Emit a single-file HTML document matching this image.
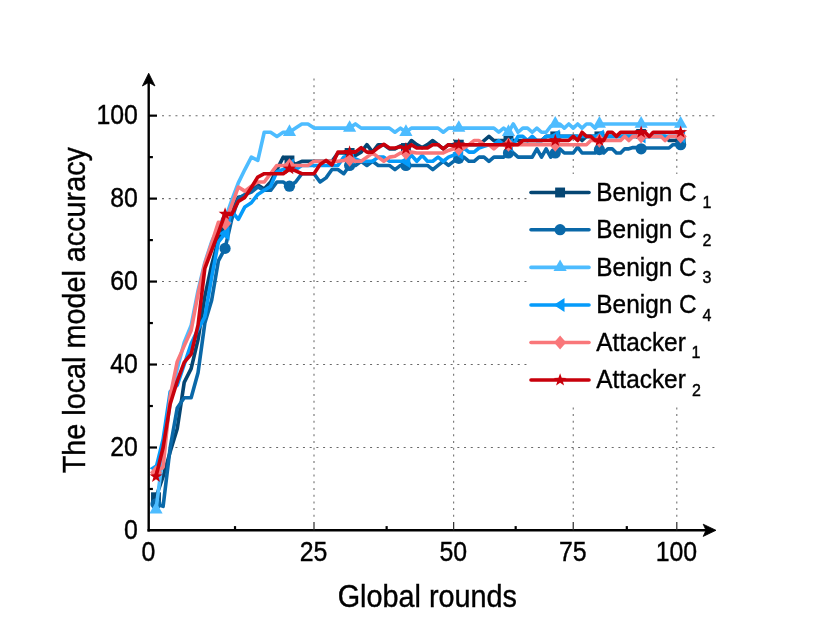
<!DOCTYPE html>
<html><head><meta charset="utf-8"><title>chart</title>
<style>
html,body{margin:0;padding:0;background:#fff;}
body{width:830px;height:636px;overflow:hidden;position:relative;}
svg{display:block;position:absolute;left:0;top:0;}
#tx{filter:grayscale(1);}
text{font-family:"Liberation Sans",sans-serif;fill:#000;stroke:#000;stroke-width:0.4px;}
.s{font-size:16px;}
</style></head><body>
<svg width="830" height="636" viewBox="0 0 830 636">
<rect x="0" y="0" width="830" height="636" fill="#fff"/>
<g stroke="#6a6a6a" stroke-width="1.05" stroke-dasharray="2,4.712" fill="none">
<line x1="162.0" y1="447.49" x2="716" y2="447.49"/>
<line x1="162.0" y1="364.53" x2="716" y2="364.53"/>
<line x1="162.0" y1="281.57" x2="716" y2="281.57"/>
<line x1="162.0" y1="198.61" x2="716" y2="198.61"/>
<line x1="162.0" y1="115.65" x2="716" y2="115.65"/>
<line x1="314.00" y1="516.80" x2="314.00" y2="77" stroke-dasharray="2,4.712"/>
<line x1="453.65" y1="516.80" x2="453.65" y2="77" stroke-dasharray="2,4.712"/>
<line x1="573.24" y1="516.80" x2="573.24" y2="77" stroke-dasharray="2,4.712"/>
<line x1="676.80" y1="516.80" x2="676.80" y2="77" stroke-dasharray="2,4.712"/>
</g>
<polyline points="155.99,497.27 163.12,476.53 170.20,451.64 177.24,428.82 184.22,382.37 191.15,368.68 198.03,339.64 204.86,296.50 211.65,264.98 218.38,240.09 225.07,227.65 231.71,211.05 238.31,197.37 244.86,196.12 251.36,188.24 257.82,184.92 264.24,189.07 270.61,182.02 276.93,169.57 283.22,157.13 289.46,160.45 295.66,164.18 301.81,161.28 307.93,161.28 314.00,161.28 320.04,161.28 326.03,161.28 331.99,161.28 337.90,152.98 343.78,152.98 349.61,152.98 355.41,155.47 361.17,152.15 366.90,144.69 372.58,152.15 378.23,144.69 383.84,144.69 389.42,148.83 394.96,148.83 400.47,145.93 405.94,148.00 411.37,140.54 416.77,144.69 422.14,147.59 427.47,144.69 432.78,140.54 438.04,144.69 443.28,148.83 448.48,144.69 453.65,144.69 458.79,144.69 463.89,144.69 468.97,144.69 474.01,144.69 479.02,144.69 484.01,140.54 488.96,136.39 493.88,140.54 498.77,140.54 503.64,140.54 508.47,140.54 513.28,140.54 518.05,140.54 522.80,140.54 527.52,140.54 532.22,140.54 536.88,140.54 541.52,140.54 546.13,136.39 550.71,136.39 555.27,136.39 559.80,136.39 564.30,136.39 568.78,136.39 573.24,136.39 577.66,136.39 582.07,140.54 586.44,136.39 590.79,136.39 595.12,136.39 599.42,136.39 603.70,136.39 607.96,136.39 612.19,136.39 616.40,136.39 620.58,136.39 624.74,136.39 628.88,136.39 632.99,136.39 637.09,136.39 641.16,133.90 645.20,136.39 649.23,136.39 653.23,136.39 657.21,136.39 661.17,136.39 665.11,136.39 669.03,140.54 672.92,140.54 676.80,140.54 680.65,140.54" fill="none" stroke="#054673" stroke-width="3.6" stroke-linejoin="round" stroke-linecap="round"/>
<rect x="151.04" y="492.32" width="9.90" height="9.90" fill="#054673"/>
<rect x="220.12" y="222.70" width="9.90" height="9.90" fill="#054673"/>
<rect x="284.51" y="155.50" width="9.90" height="9.90" fill="#054673"/>
<rect x="344.66" y="148.03" width="9.90" height="9.90" fill="#054673"/>
<rect x="400.99" y="143.05" width="9.90" height="9.90" fill="#054673"/>
<rect x="453.84" y="139.74" width="9.90" height="9.90" fill="#054673"/>
<rect x="503.52" y="135.59" width="9.90" height="9.90" fill="#054673"/>
<rect x="550.32" y="131.44" width="9.90" height="9.90" fill="#054673"/>
<rect x="594.47" y="131.44" width="9.90" height="9.90" fill="#054673"/>
<rect x="636.21" y="128.95" width="9.90" height="9.90" fill="#054673"/>
<rect x="675.70" y="135.59" width="9.90" height="9.90" fill="#054673"/>
<polyline points="155.99,503.90 163.12,506.39 170.20,447.49 177.24,408.08 184.22,397.71 191.15,397.71 198.03,372.83 204.86,323.05 211.65,300.24 218.38,260.83 225.07,248.39 231.71,219.35 238.31,198.61 244.86,194.46 251.36,191.97 257.82,187.00 264.24,190.31 270.61,190.31 276.93,182.02 283.22,182.02 289.46,186.17 295.66,182.02 301.81,173.72 307.93,173.72 314.00,173.72 320.04,182.02 326.03,177.87 331.99,169.57 337.90,169.57 343.78,173.72 349.61,165.43 355.41,165.43 361.17,161.28 366.90,165.43 372.58,161.28 378.23,165.43 383.84,165.43 389.42,165.43 394.96,169.57 400.47,165.43 405.94,165.43 411.37,165.43 416.77,165.43 422.14,165.43 427.47,165.43 432.78,169.57 438.04,165.43 443.28,161.28 448.48,165.43 453.65,161.28 458.79,158.37 463.89,157.13 468.97,161.28 474.01,161.28 479.02,157.13 484.01,157.13 488.96,161.28 493.88,157.13 498.77,157.13 503.64,157.13 508.47,152.98 513.28,152.98 518.05,157.13 522.80,157.13 527.52,157.13 532.22,157.13 536.88,148.83 541.52,157.13 546.13,148.83 550.71,157.13 555.27,152.98 559.80,148.83 564.30,152.98 568.78,152.98 573.24,152.98 577.66,147.17 582.07,152.98 586.44,152.98 590.79,152.98 595.12,152.98 599.42,149.66 603.70,152.98 607.96,148.83 612.19,148.83 616.40,152.98 620.58,152.98 624.74,148.83 628.88,148.83 632.99,147.59 637.09,147.59 641.16,148.83 645.20,148.00 649.23,148.00 653.23,148.00 657.21,148.00 661.17,148.00 665.11,148.00 669.03,148.00 672.92,144.69 676.80,144.69 680.65,144.69" fill="none" stroke="#0a68a8" stroke-width="3.6" stroke-linejoin="round" stroke-linecap="round"/>
<circle cx="155.99" cy="503.90" r="5.6" fill="#0a68a8"/>
<circle cx="225.07" cy="248.39" r="5.6" fill="#0a68a8"/>
<circle cx="289.46" cy="186.17" r="5.6" fill="#0a68a8"/>
<circle cx="349.61" cy="165.43" r="5.6" fill="#0a68a8"/>
<circle cx="405.94" cy="165.43" r="5.6" fill="#0a68a8"/>
<circle cx="458.79" cy="158.37" r="5.6" fill="#0a68a8"/>
<circle cx="508.47" cy="152.98" r="5.6" fill="#0a68a8"/>
<circle cx="555.27" cy="152.98" r="5.6" fill="#0a68a8"/>
<circle cx="599.42" cy="149.66" r="5.6" fill="#0a68a8"/>
<circle cx="641.16" cy="148.83" r="5.6" fill="#0a68a8"/>
<circle cx="680.65" cy="144.69" r="5.6" fill="#0a68a8"/>
<polyline points="155.99,509.71 163.12,453.71 170.20,401.86 177.24,368.68 184.22,342.55 191.15,325.54 198.03,290.70 204.86,262.49 211.65,241.75 218.38,227.65 225.07,219.35 231.71,200.27 238.31,182.85 244.86,169.57 251.36,157.13 257.82,160.45 264.24,132.24 270.61,132.24 276.93,136.39 283.22,132.24 289.46,132.24 295.66,128.09 301.81,123.95 307.93,123.95 314.00,128.09 320.04,128.09 326.03,128.09 331.99,128.09 337.90,128.09 343.78,128.09 349.61,128.09 355.41,123.95 361.17,128.09 366.90,128.09 372.58,128.09 378.23,128.09 383.84,128.09 389.42,128.09 394.96,132.24 400.47,128.09 405.94,132.24 411.37,128.09 416.77,128.09 422.14,128.09 427.47,128.09 432.78,128.09 438.04,128.09 443.28,132.24 448.48,128.09 453.65,128.09 458.79,128.09 463.89,128.09 468.97,128.09 474.01,128.09 479.02,128.09 484.01,128.09 488.96,128.09 493.88,128.09 498.77,132.24 503.64,128.09 508.47,132.24 513.28,123.95 518.05,132.24 522.80,128.09 527.52,128.09 532.22,132.24 536.88,128.09 541.52,132.24 546.13,132.24 550.71,126.43 555.27,123.95 559.80,123.95 564.30,128.09 568.78,123.95 573.24,128.09 577.66,123.95 582.07,128.09 586.44,123.95 590.79,123.95 595.12,128.09 599.42,123.95 603.70,123.95 607.96,123.95 612.19,123.95 616.40,123.95 620.58,123.95 624.74,123.95 628.88,123.95 632.99,123.95 637.09,123.95 641.16,123.95 645.20,123.95 649.23,123.95 653.23,123.95 657.21,123.95 661.17,123.95 665.11,123.95 669.03,123.95 672.92,123.95 676.80,123.95 680.65,123.95" fill="none" stroke="#4dbcff" stroke-width="3.6" stroke-linejoin="round" stroke-linecap="round"/>
<polygon points="155.99,501.81 162.59,513.41 149.39,513.41" fill="#4dbcff"/>
<polygon points="225.07,211.45 231.67,223.05 218.47,223.05" fill="#4dbcff"/>
<polygon points="289.46,124.34 296.06,135.94 282.86,135.94" fill="#4dbcff"/>
<polygon points="349.61,120.19 356.21,131.79 343.01,131.79" fill="#4dbcff"/>
<polygon points="405.94,124.34 412.54,135.94 399.34,135.94" fill="#4dbcff"/>
<polygon points="458.79,120.19 465.39,131.79 452.19,131.79" fill="#4dbcff"/>
<polygon points="508.47,124.34 515.07,135.94 501.87,135.94" fill="#4dbcff"/>
<polygon points="555.27,116.05 561.87,127.65 548.67,127.65" fill="#4dbcff"/>
<polygon points="599.42,116.05 606.02,127.65 592.82,127.65" fill="#4dbcff"/>
<polygon points="641.16,116.05 647.76,127.65 634.56,127.65" fill="#4dbcff"/>
<polygon points="680.65,116.05 687.25,127.65 674.05,127.65" fill="#4dbcff"/>
<polyline points="155.99,468.23 163.12,439.19 170.20,391.49 177.24,385.27 184.22,364.53 191.15,343.79 198.03,329.27 204.86,316.83 211.65,277.42 218.38,242.16 225.07,233.45 231.71,211.05 238.31,219.35 244.86,206.91 251.36,202.76 257.82,194.46 264.24,190.31 270.61,186.17 276.93,171.65 283.22,169.57 289.46,165.43 295.66,169.57 301.81,165.43 307.93,165.43 314.00,165.43 320.04,165.43 326.03,165.43 331.99,165.43 337.90,165.43 343.78,157.13 349.61,157.13 355.41,158.79 361.17,161.28 366.90,161.28 372.58,161.28 378.23,157.13 383.84,157.13 389.42,161.28 394.96,161.28 400.47,161.28 405.94,161.28 411.37,155.06 416.77,161.28 422.14,155.47 427.47,161.28 432.78,161.28 438.04,157.13 443.28,161.28 448.48,157.13 453.65,155.06 458.79,152.98 463.89,148.00 468.97,152.15 474.01,152.15 479.02,148.00 484.01,146.35 488.96,144.69 493.88,144.69 498.77,140.54 503.64,144.69 508.47,144.69 513.28,144.69 518.05,136.39 522.80,136.39 527.52,140.54 532.22,136.39 536.88,140.54 541.52,140.54 546.13,136.39 550.71,136.39 555.27,136.39 559.80,136.39 564.30,136.39 568.78,136.39 573.24,136.39 577.66,136.39 582.07,136.39 586.44,136.39 590.79,136.39 595.12,136.39 599.42,136.39 603.70,136.39 607.96,136.39 612.19,136.39 616.40,136.39 620.58,136.39 624.74,136.39 628.88,136.39 632.99,136.39 637.09,136.39 641.16,136.39 645.20,136.39 649.23,136.39 653.23,136.39 657.21,136.39 661.17,136.39 665.11,136.39 669.03,136.39 672.92,136.39 676.80,136.39 680.65,136.39" fill="none" stroke="#059bfa" stroke-width="3.6" stroke-linejoin="round" stroke-linecap="round"/>
<polygon points="149.59,468.23 160.39,461.23 160.39,475.23" fill="#059bfa"/>
<polygon points="218.67,233.45 229.47,226.45 229.47,240.45" fill="#059bfa"/>
<polygon points="283.06,165.43 293.86,158.43 293.86,172.43" fill="#059bfa"/>
<polygon points="343.21,157.13 354.01,150.13 354.01,164.13" fill="#059bfa"/>
<polygon points="399.54,161.28 410.34,154.28 410.34,168.28" fill="#059bfa"/>
<polygon points="452.39,152.98 463.19,145.98 463.19,159.98" fill="#059bfa"/>
<polygon points="502.07,144.69 512.87,137.69 512.87,151.69" fill="#059bfa"/>
<polygon points="548.87,136.39 559.67,129.39 559.67,143.39" fill="#059bfa"/>
<polygon points="593.02,136.39 603.82,129.39 603.82,143.39" fill="#059bfa"/>
<polygon points="634.76,136.39 645.56,129.39 645.56,143.39" fill="#059bfa"/>
<polygon points="674.25,136.39 685.05,129.39 685.05,143.39" fill="#059bfa"/>
<polyline points="155.99,472.38 163.12,466.99 170.20,396.05 177.24,361.63 184.22,345.86 191.15,330.52 198.03,294.01 204.86,263.73 211.65,243.41 218.38,222.25 225.07,223.50 231.71,205.25 238.31,187.00 244.86,191.14 251.36,186.17 257.82,182.02 264.24,182.02 270.61,173.72 276.93,165.43 283.22,165.43 289.46,165.43 295.66,165.43 301.81,165.43 307.93,165.43 314.00,161.28 320.04,161.28 326.03,161.28 331.99,161.28 337.90,161.28 343.78,160.45 349.61,159.62 355.41,161.28 361.17,161.28 366.90,157.13 372.58,152.98 378.23,157.13 383.84,161.28 389.42,157.13 394.96,156.30 400.47,152.98 405.94,152.98 411.37,152.15 416.77,152.98 422.14,152.98 427.47,152.98 432.78,152.98 438.04,152.98 443.28,152.98 448.48,150.49 453.65,148.83 458.79,148.83 463.89,148.00 468.97,144.69 474.01,140.54 479.02,140.54 484.01,144.69 488.96,144.69 493.88,148.83 498.77,144.69 503.64,144.69 508.47,144.69 513.28,144.69 518.05,144.69 522.80,144.69 527.52,144.69 532.22,144.69 536.88,144.69 541.52,144.69 546.13,144.69 550.71,144.69 555.27,144.69 559.80,144.69 564.30,144.69 568.78,144.69 573.24,144.69 577.66,144.69 582.07,144.69 586.44,144.69 590.79,140.54 595.12,140.54 599.42,140.54 603.70,140.54 607.96,140.54 612.19,140.54 616.40,140.54 620.58,140.54 624.74,136.39 628.88,140.54 632.99,136.39 637.09,136.39 641.16,136.39 645.20,136.39 649.23,136.39 653.23,136.39 657.21,136.39 661.17,136.39 665.11,140.54 669.03,136.39 672.92,136.39 676.80,136.39 680.65,136.39" fill="none" stroke="#f9777a" stroke-width="3.6" stroke-linejoin="round" stroke-linecap="round"/>
<polygon points="155.99,465.28 162.09,472.38 155.99,479.48 149.89,472.38" fill="#f9777a"/>
<polygon points="225.07,216.40 231.17,223.50 225.07,230.60 218.97,223.50" fill="#f9777a"/>
<polygon points="289.46,158.33 295.56,165.43 289.46,172.53 283.36,165.43" fill="#f9777a"/>
<polygon points="349.61,152.52 355.71,159.62 349.61,166.72 343.51,159.62" fill="#f9777a"/>
<polygon points="405.94,145.88 412.04,152.98 405.94,160.08 399.84,152.98" fill="#f9777a"/>
<polygon points="458.79,141.73 464.89,148.83 458.79,155.93 452.69,148.83" fill="#f9777a"/>
<polygon points="508.47,137.59 514.57,144.69 508.47,151.79 502.37,144.69" fill="#f9777a"/>
<polygon points="555.27,137.59 561.37,144.69 555.27,151.79 549.17,144.69" fill="#f9777a"/>
<polygon points="599.42,133.44 605.52,140.54 599.42,147.64 593.32,140.54" fill="#f9777a"/>
<polygon points="641.16,129.29 647.26,136.39 641.16,143.49 635.06,136.39" fill="#f9777a"/>
<polygon points="680.65,129.29 686.75,136.39 680.65,143.49 674.55,136.39" fill="#f9777a"/>
<polyline points="155.99,476.53 163.12,447.49 170.20,403.94 177.24,381.12 184.22,362.46 191.15,354.16 198.03,325.12 204.86,268.30 211.65,250.46 218.38,232.62 225.07,213.96 231.71,214.37 238.31,201.51 244.86,197.37 251.36,187.41 257.82,177.04 264.24,173.72 270.61,173.72 276.93,173.72 283.22,173.72 289.46,168.74 295.66,170.82 301.81,173.72 307.93,173.72 314.00,173.72 320.04,164.60 326.03,160.45 331.99,165.01 337.90,152.15 343.78,152.15 349.61,152.15 355.41,152.15 361.17,147.59 366.90,152.15 372.58,152.15 378.23,147.59 383.84,144.27 389.42,148.00 394.96,148.00 400.47,146.76 405.94,148.83 411.37,144.69 416.77,148.00 422.14,148.00 427.47,148.00 432.78,144.69 438.04,144.69 443.28,148.83 448.48,144.69 453.65,145.93 458.79,144.69 463.89,144.69 468.97,144.69 474.01,144.69 479.02,144.69 484.01,144.69 488.96,144.69 493.88,144.69 498.77,144.69 503.64,144.69 508.47,144.69 513.28,144.69 518.05,144.69 522.80,140.54 527.52,140.54 532.22,140.54 536.88,140.54 541.52,140.54 546.13,140.54 550.71,140.54 555.27,140.54 559.80,140.54 564.30,140.54 568.78,140.54 573.24,136.39 577.66,140.54 582.07,132.24 586.44,136.39 590.79,136.39 595.12,140.54 599.42,140.54 603.70,140.54 607.96,132.24 612.19,132.24 616.40,136.39 620.58,132.24 624.74,132.24 628.88,132.24 632.99,132.24 637.09,132.24 641.16,132.24 645.20,132.24 649.23,136.39 653.23,132.24 657.21,132.24 661.17,132.24 665.11,132.24 669.03,132.24 672.92,132.24 676.80,132.24 680.65,132.24" fill="none" stroke="#c8000b" stroke-width="3.6" stroke-linejoin="round" stroke-linecap="round"/>
<polygon points="155.99,469.73 157.57,474.34 162.45,474.42 158.55,477.36 159.98,482.03 155.99,479.23 151.99,482.03 153.42,477.36 149.52,474.42 154.40,474.34" fill="#c8000b"/>
<polygon points="225.07,207.16 226.66,211.77 231.54,211.86 227.64,214.79 229.07,219.46 225.07,216.66 221.07,219.46 222.50,214.79 218.60,211.86 223.48,211.77" fill="#c8000b"/>
<polygon points="289.46,161.94 291.05,166.56 295.93,166.64 292.03,169.58 293.46,174.25 289.46,171.44 285.46,174.25 286.89,169.58 282.99,166.64 287.87,166.56" fill="#c8000b"/>
<polygon points="349.61,145.35 351.20,149.97 356.08,150.05 352.18,152.99 353.61,157.65 349.61,154.85 345.62,157.65 347.04,152.99 343.15,150.05 348.03,149.97" fill="#c8000b"/>
<polygon points="405.94,142.03 407.52,146.65 412.40,146.73 408.50,149.67 409.93,154.34 405.94,151.53 401.94,154.34 403.37,149.67 399.47,146.73 404.35,146.65" fill="#c8000b"/>
<polygon points="458.79,137.89 460.37,142.50 465.25,142.58 461.35,145.52 462.78,150.19 458.79,147.39 454.79,150.19 456.22,145.52 452.32,142.58 457.20,142.50" fill="#c8000b"/>
<polygon points="508.47,137.89 510.06,142.50 514.94,142.58 511.04,145.52 512.47,150.19 508.47,147.39 504.47,150.19 505.90,145.52 502.00,142.58 506.88,142.50" fill="#c8000b"/>
<polygon points="555.27,133.74 556.86,138.35 561.74,138.44 557.84,141.37 559.27,146.04 555.27,143.24 551.27,146.04 552.70,141.37 548.80,138.44 553.68,138.35" fill="#c8000b"/>
<polygon points="599.42,133.74 601.01,138.35 605.89,138.44 601.99,141.37 603.42,146.04 599.42,143.24 595.43,146.04 596.86,141.37 592.96,138.44 597.84,138.35" fill="#c8000b"/>
<polygon points="641.16,125.44 642.74,130.06 647.62,130.14 643.72,133.08 645.15,137.74 641.16,134.94 637.16,137.74 638.59,133.08 634.69,130.14 639.57,130.06" fill="#c8000b"/>
<polygon points="680.65,125.44 682.24,130.06 687.12,130.14 683.22,133.08 684.65,137.74 680.65,134.94 676.66,137.74 678.09,133.08 674.19,130.14 679.07,130.06" fill="#c8000b"/>
<rect x="527" y="174" width="200" height="232" fill="#fff"/>
<line x1="531.0" y1="192.5" x2="589.0" y2="192.5" stroke="#054673" stroke-width="3.6" stroke-linecap="round"/>
<rect x="555.15" y="187.55" width="9.90" height="9.90" fill="#054673"/>
<line x1="531.0" y1="229.7" x2="589.0" y2="229.7" stroke="#0a68a8" stroke-width="3.6" stroke-linecap="round"/>
<circle cx="560.10" cy="229.70" r="5.6" fill="#0a68a8"/>
<line x1="531.0" y1="267.4" x2="589.0" y2="267.4" stroke="#4dbcff" stroke-width="3.6" stroke-linecap="round"/>
<polygon points="560.10,259.50 566.70,271.10 553.50,271.10" fill="#4dbcff"/>
<line x1="531.0" y1="305.0" x2="589.0" y2="305.0" stroke="#059bfa" stroke-width="3.6" stroke-linecap="round"/>
<polygon points="553.70,305.00 564.50,298.00 564.50,312.00" fill="#059bfa"/>
<line x1="531.0" y1="342.5" x2="589.0" y2="342.5" stroke="#f9777a" stroke-width="3.6" stroke-linecap="round"/>
<polygon points="560.10,335.40 566.20,342.50 560.10,349.60 554.00,342.50" fill="#f9777a"/>
<line x1="531.0" y1="380.0" x2="589.0" y2="380.0" stroke="#c8000b" stroke-width="3.6" stroke-linecap="round"/>
<polygon points="560.10,373.20 561.69,377.82 566.57,377.90 562.67,380.83 564.10,385.50 560.10,382.70 556.10,385.50 557.53,380.83 553.63,377.90 558.51,377.82" fill="#c8000b"/>
<g stroke="#000" stroke-width="2.4" fill="none" stroke-linecap="butt">
<line x1="148.7" y1="531.5" x2="148.7" y2="82"/>
<line x1="147.5" y1="530.3" x2="706" y2="530.3"/>
</g>
<g stroke="#000" stroke-width="2.2" fill="none" stroke-linecap="butt">
<line x1="148.7" y1="488.97" x2="152.89999999999998" y2="488.97"/>
<line x1="148.7" y1="447.49" x2="157.0" y2="447.49"/>
<line x1="148.7" y1="406.01" x2="152.89999999999998" y2="406.01"/>
<line x1="148.7" y1="364.53" x2="157.0" y2="364.53"/>
<line x1="148.7" y1="323.05" x2="152.89999999999998" y2="323.05"/>
<line x1="148.7" y1="281.57" x2="157.0" y2="281.57"/>
<line x1="148.7" y1="240.09" x2="152.89999999999998" y2="240.09"/>
<line x1="148.7" y1="198.61" x2="157.0" y2="198.61"/>
<line x1="148.7" y1="157.13" x2="152.89999999999998" y2="157.13"/>
<line x1="148.7" y1="115.65" x2="157.0" y2="115.65"/>
<line x1="235.02" y1="530.3" x2="235.02" y2="526.0999999999999"/>
<line x1="314.00" y1="530.3" x2="314.00" y2="522.0" stroke-width="1.2" stroke="#2a2a2a"/>
<line x1="386.64" y1="530.3" x2="386.64" y2="526.0999999999999"/>
<line x1="453.65" y1="530.3" x2="453.65" y2="522.0" stroke-width="1.2" stroke="#2a2a2a"/>
<line x1="515.67" y1="530.3" x2="515.67" y2="526.0999999999999"/>
<line x1="573.24" y1="530.3" x2="573.24" y2="522.0" stroke-width="1.2" stroke="#2a2a2a"/>
<line x1="626.81" y1="530.3" x2="626.81" y2="526.0999999999999"/>
<line x1="676.80" y1="530.3" x2="676.80" y2="522.0" stroke-width="1.2" stroke="#2a2a2a"/>
</g>
<polygon points="148.7,73.2 155.0,86 148.7,82.4 142.39999999999998,86" fill="#000" stroke="#000" stroke-width="0.8" stroke-linejoin="round"/>
<polygon points="716,530.3 703.2,524.1999999999999 706,530.3 703.2,536.4" fill="#000" stroke="#000" stroke-width="0.8" stroke-linejoin="round"/>
</svg>
<svg id="tx" width="830" height="636" viewBox="0 0 830 636">
<text transform="translate(596.30,200.70) scale(0.925,1)" font-size="26.4" text-anchor="start">Benign C</text>
<text class="s" x="702.6" y="208.0">1</text>
<text transform="translate(596.30,238.30) scale(0.925,1)" font-size="26.4" text-anchor="start">Benign C</text>
<text class="s" x="702.6" y="245.6">2</text>
<text transform="translate(596.30,276.00) scale(0.925,1)" font-size="26.4" text-anchor="start">Benign C</text>
<text class="s" x="702.6" y="283.3">3</text>
<text transform="translate(596.30,313.30) scale(0.925,1)" font-size="26.4" text-anchor="start">Benign C</text>
<text class="s" x="702.6" y="320.6">4</text>
<text transform="translate(596.30,350.70) scale(0.925,1)" font-size="26.4" text-anchor="start">Attacker</text>
<text class="s" x="691.6" y="358.0">1</text>
<text transform="translate(596.30,388.30) scale(0.925,1)" font-size="26.4" text-anchor="start">Attacker</text>
<text class="s" x="692.0" y="395.6">2</text>
<text transform="translate(137.90,538.60) scale(0.925,1)" font-size="26.9" text-anchor="end">0</text>
<text transform="translate(137.90,455.64) scale(0.925,1)" font-size="26.9" text-anchor="end">20</text>
<text transform="translate(137.90,372.68) scale(0.925,1)" font-size="26.9" text-anchor="end">40</text>
<text transform="translate(137.90,289.72) scale(0.925,1)" font-size="26.9" text-anchor="end">60</text>
<text transform="translate(137.90,206.76) scale(0.925,1)" font-size="26.9" text-anchor="end">80</text>
<text transform="translate(137.90,123.80) scale(0.925,1)" font-size="26.9" text-anchor="end">100</text>
<text transform="translate(148.40,561.00) scale(0.925,1)" font-size="26.9" text-anchor="middle">0</text>
<text transform="translate(313.60,561.00) scale(0.925,1)" font-size="26.9" text-anchor="middle">25</text>
<text transform="translate(453.25,561.00) scale(0.925,1)" font-size="26.9" text-anchor="middle">50</text>
<text transform="translate(572.84,561.00) scale(0.925,1)" font-size="26.9" text-anchor="middle">75</text>
<text transform="translate(676.40,561.00) scale(0.925,1)" font-size="26.9" text-anchor="middle">100</text>
<text font-size="30.8" text-anchor="middle" textLength="179.3" lengthAdjust="spacingAndGlyphs" x="427.3" y="606.8">Global rounds</text>
<text font-size="30.8" text-anchor="middle" textLength="326.3" lengthAdjust="spacingAndGlyphs" transform="translate(84.6,310.2) rotate(-90)">The local model accuracy</text>
</svg></body></html>
